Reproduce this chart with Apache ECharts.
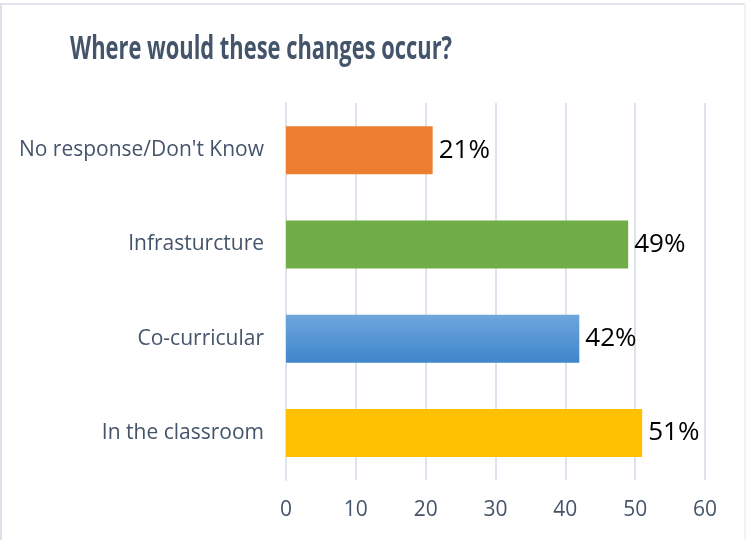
<!DOCTYPE html>
<html>
<head>
<meta charset="utf-8">
<script src="https://cdn.jsdelivr.net/npm/echarts@6/dist/echarts.min.js"></script>
<style>
  html, body { margin: 0; padding: 0; background: #ffffff; }
  #chart { width: 746px; height: 540px; }
</style>
</head>
<body>
<div id="chart"></div>
<script>
// Survey answers, listed bottom-to-top as drawn on the category axis
const categories = ['In the classroom', 'Co-curricular', 'Infrasturcture', "No response/Don't Know"];
const values = [51, 42, 49, 21];
const barColors = ['#FFC000', null, '#70AD47', '#ED7D31'];
const valueTicks = [0, 10, 20, 30, 40, 50, 60];
const titleText = 'Where would these changes occur?';

const chart = echarts.init(document.getElementById('chart'), null, { renderer: 'canvas' });

const blueGradient = new echarts.graphic.LinearGradient(0, 0, 0, 1, [
  { offset: 0, color: '#6FA6DD' },
  { offset: 1, color: '#3F86CB' }
]);

// Title is set in a condensed width: measure the bold face and narrow it to ~382px
const titleFont = 'bold 32px "Open Sans"';
const measureCtx = document.createElement('canvas').getContext('2d');
measureCtx.font = titleFont;
const titleScaleX = 382 / measureCtx.measureText(titleText).width;

chart.setOption({
  animation: false,
  backgroundColor: '#ffffff',
  graphic: [
    { type: 'rect', shape: { x: 0, y: 3, width: 746, height: 2 }, style: { fill: '#E1E5EB' }, silent: true },
    { type: 'rect', shape: { x: 0, y: 3, width: 2, height: 537 }, style: { fill: '#DDE2EA' }, silent: true },
    { type: 'rect', shape: { x: 744, y: 3, width: 2, height: 537 }, style: { fill: '#F2F2F2' }, silent: true },
    {
      type: 'text',
      x: 70,
      y: 50,
      scaleX: titleScaleX,
      silent: true,
      style: {
        text: titleText,
        x: 0,
        y: 0,
        font: titleFont,
        fill: '#44546A',
        align: 'left',
        verticalAlign: 'middle'
      }
    }
  ],
  grid: {
    left: 286,
    right: 41,
    top: 103,
    bottom: 60,
    containLabel: false
  },
  xAxis: {
    type: 'value',
    min: valueTicks[0],
    max: valueTicks[valueTicks.length - 1],
    interval: 10,
    axisLine: { show: false },
    axisTick: { show: false },
    axisLabel: {
      margin: 20,
      fontFamily: 'Open Sans',
      fontSize: 21,
      color: '#44546A'
    },
    splitLine: { show: true, lineStyle: { color: '#DDE3EC', width: 2 } }
  },
  yAxis: {
    type: 'category',
    data: categories,
    axisLine: { show: true, lineStyle: { color: '#DDE3EC', width: 2 } },
    axisTick: { show: false },
    axisLabel: {
      margin: 22,
      fontFamily: 'Open Sans',
      fontSize: 21,
      color: '#44546A'
    }
  },
  series: [{
    type: 'bar',
    barWidth: 48,
    data: values.map((v, i) => ({
      value: v,
      itemStyle: { color: barColors[i] || blueGradient }
    })),
    label: {
      show: true,
      position: 'right',
      distance: 6,
      formatter: p => p.value + '%',
      fontFamily: 'Open Sans',
      fontSize: 26,
      color: '#000000'
    }
  }]
});
</script>
</body>
</html>
